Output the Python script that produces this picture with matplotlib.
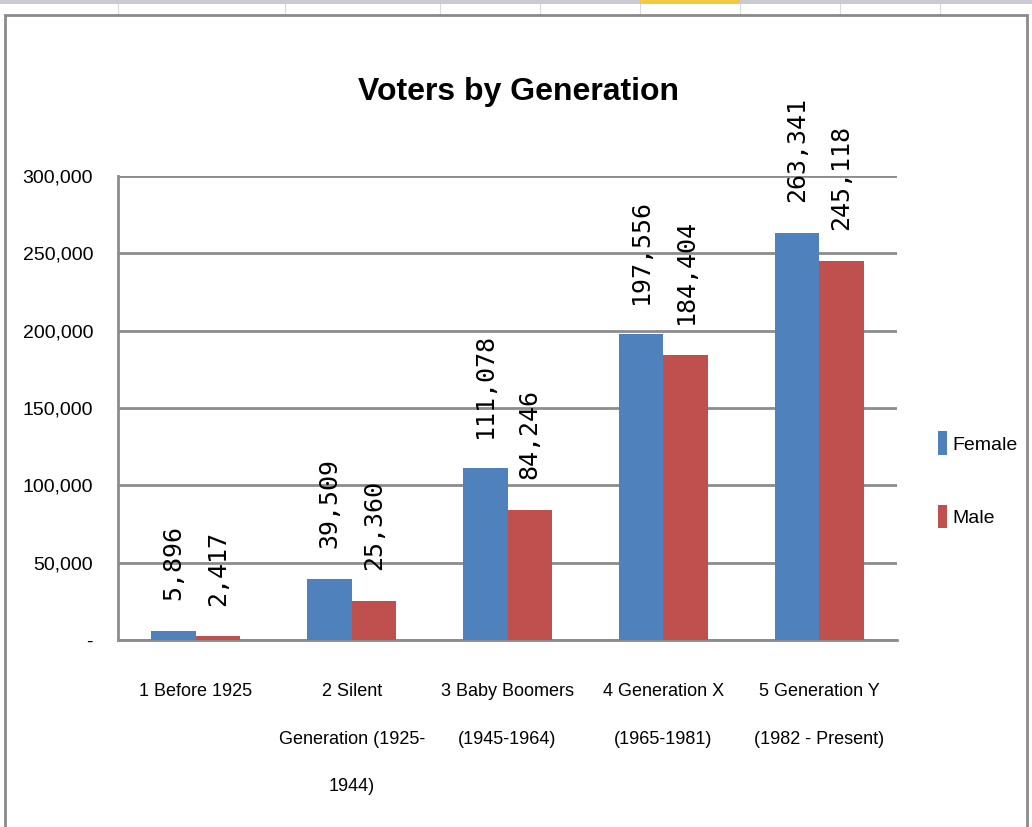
import matplotlib.pyplot as plt
import numpy as np
from matplotlib.patches import Rectangle
from matplotlib.lines import Line2D

categories = ["1 Before 1925", "2 Silent\nGeneration (1925-\n1944)", "3 Baby Boomers\n(1945-1964)",
              "4 Generation X\n(1965-1981)", "5 Generation Y\n(1982 - Present)"]
female = [5896, 39509, 111078, 197556, 263341]
male = [2417, 25360, 84246, 184404, 245118]
yticks = [0, 50000, 100000, 150000, 200000, 250000, 300000]
ytick_labels = ["-", "50,000", "100,000", "150,000", "200,000", "250,000", "300,000"]

blue = "#4F81BD"
red = "#C0504D"
narrow = ["Liberation Sans Narrow", "Liberation Sans", "DejaVu Sans"]

fig = plt.figure(figsize=(10.32, 8.27), dpi=100)

# spreadsheet background
for xc in [118, 285, 440, 540, 640, 740, 840, 940]:
    fig.add_artist(Line2D([xc / 1032, xc / 1032], [1 - 15 / 827, 1], color="#d8d8d8", lw=0.8, zorder=-3))
fig.add_artist(Rectangle((0, 1 - 4 / 827), 1, 4 / 827, color="#c8ccd2", lw=0, zorder=-3))
fig.add_artist(Rectangle((640 / 1032, 1 - 4 / 827), 100 / 1032, 4 / 827, color="#f5c842", lw=0, zorder=-3))
fig.add_artist(Rectangle((5 / 1032, -0.01), 1022 / 1032, 1 - 15 / 827 + 0.01,
                         facecolor="white", edgecolor="#8a8a8a", lw=2, zorder=-2))

ax = fig.add_axes([118 / 1032, 1 - 640 / 827, 779 / 1032, 464 / 827])
ax.set_zorder(1)
ax.patch.set_alpha(0)
x = np.arange(len(categories))
w = 1 / 3.5
b1 = ax.bar(x - w / 2, female, w, color=blue, label="Female", zorder=3)
b2 = ax.bar(x + w / 2, male, w, color=red, label="Male", zorder=3)

for bars, vals in [(b1, female), (b2, male)]:
    for rect, v in zip(bars, vals):
        ax.annotate(f"{v:,}", (rect.get_x() + rect.get_width() / 2, rect.get_height()),
                    xytext=(0, 22), textcoords="offset points", rotation=90,
                    ha="center", va="bottom", fontsize=18, family="DejaVu Sans Mono",
                    fontweight="light")

ax.set_xlim(-0.5, len(categories) - 0.5)
ax.set_ylim(0, 300000)
ax.set_yticks(yticks)
ax.set_yticklabels(ytick_labels, family=narrow, fontsize=14)
ax.set_xticks(x)
ax.set_xticklabels(categories, family=narrow, fontsize=13, linespacing=3.35, va="top")
ax.tick_params(axis="x", length=0, pad=31)
ax.tick_params(axis="y", length=0, pad=18)
ax.grid(axis="y", color="#8c8c8c", lw=2, zorder=0)
for s in ["top", "right"]:
    ax.spines[s].set_visible(False)
for s in ["left", "bottom"]:
    ax.spines[s].set_color("#8c8c8c")
    ax.spines[s].set_linewidth(2)

fig.text(518 / 1032, 1 - 92 / 827, "Voters by Generation", ha="center", va="center",
         fontsize=23, fontweight="bold", family=narrow)

ax.legend(loc="center left", bbox_to_anchor=(1.03, 0.345), frameon=False,
          prop={"family": narrow, "size": 14}, handlelength=0.45, handleheight=1.5,
          handletextpad=0.3, labelspacing=2.55)

fig.savefig("out.png", dpi=100)
